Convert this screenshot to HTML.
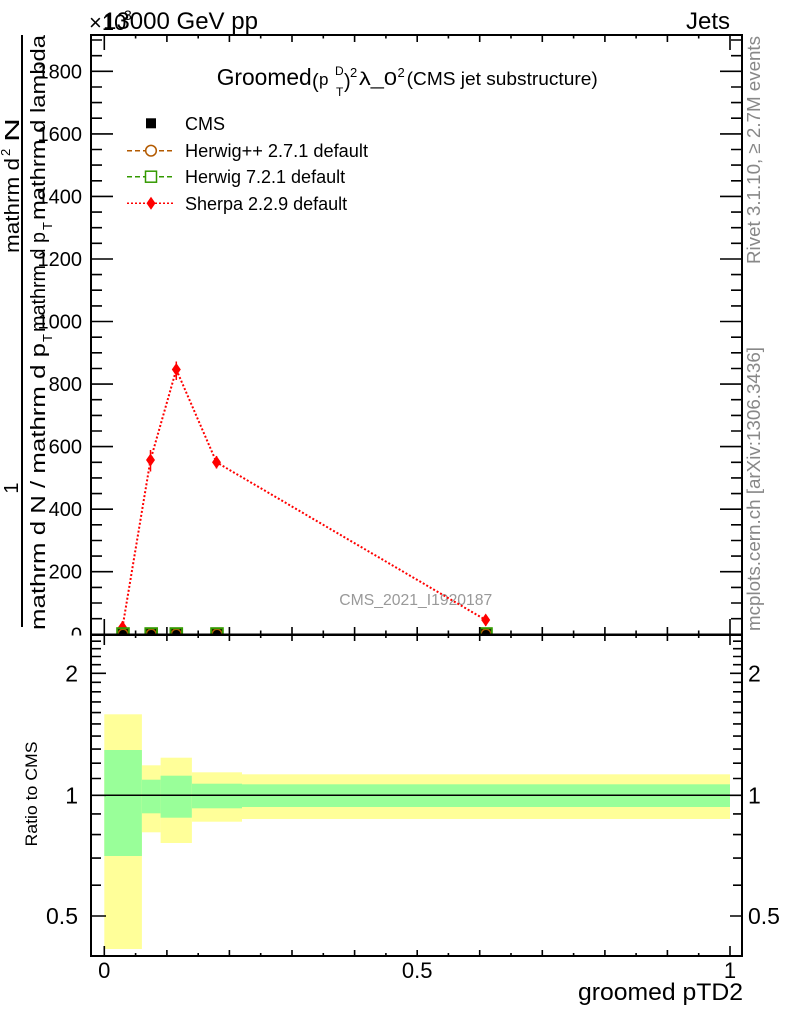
<!DOCTYPE html>
<html><head><meta charset="utf-8"><style>html,body{margin:0;padding:0;background:#fff}svg{display:block}</style></head>
<body>
<svg width="786" height="1024" viewBox="0 0 786 1024" xmlns="http://www.w3.org/2000/svg" font-family="'Liberation Sans', Arial, sans-serif">
<rect width="786" height="1024" fill="#fff"/>

<!-- top labels -->
<text x="89" y="30" font-size="22">×10</text>
<text x="124" y="20" font-size="14">3</text>
<text x="103" y="29" font-size="24" textLength="155" lengthAdjust="spacingAndGlyphs">13000 GeV pp</text>
<text x="730" y="29" font-size="24" text-anchor="end">Jets</text>

<!-- title -->
<text x="216.7" y="85" font-size="23" textLength="95" lengthAdjust="spacingAndGlyphs">Groomed</text>
<text x="312" y="88" font-size="20">(</text>
<text x="319" y="85" font-size="17">p</text>
<text x="336" y="96" font-size="12">T</text>
<text x="335" y="75" font-size="12">D</text>
<text x="344" y="88" font-size="20">)</text>
<text x="350" y="77" font-size="13">2</text>
<text x="359" y="85" font-size="18" textLength="38" lengthAdjust="spacingAndGlyphs">λ_0</text>
<text x="397.5" y="77" font-size="13">2</text>
<text x="406.7" y="85" font-size="18" textLength="191" lengthAdjust="spacingAndGlyphs">(CMS jet substructure)</text>

<!-- legend -->
<rect x="146" y="118.3" width="10" height="10" fill="#000"/>
<text x="185" y="130" font-size="18">CMS</text>
<line x1="127" y1="150.7" x2="173" y2="150.7" stroke="#b35a00" stroke-width="1.5" stroke-dasharray="5,3"/>
<circle cx="151" cy="150.7" r="5.3" fill="#fff" stroke="#b35a00" stroke-width="1.5"/>
<text x="185" y="157" font-size="18" textLength="183" lengthAdjust="spacingAndGlyphs">Herwig++ 2.7.1 default</text>
<line x1="127" y1="176.7" x2="173" y2="176.7" stroke="#339900" stroke-width="1.5" stroke-dasharray="5,3"/>
<rect x="145.5" y="171.2" width="11" height="11" fill="#fff" stroke="#339900" stroke-width="1.5"/>
<text x="185" y="183" font-size="18">Herwig 7.2.1 default</text>
<line x1="127" y1="203.3" x2="173" y2="203.3" stroke="#ff0000" stroke-width="1.5" stroke-dasharray="2,2"/>
<polygon points="151,196.8 155.5,203.3 151,209.8 146.5,203.3" fill="#ff0000"/>
<text x="185" y="210" font-size="18">Sherpa 2.2.9 default</text>

<!-- watermark -->
<text x="339.3" y="605" font-size="16" fill="#999" textLength="153" lengthAdjust="spacingAndGlyphs">CMS_2021_I1920187</text>

<!-- Sherpa series -->
<polyline points="122.5,627.3 150.5,460 176.3,369.5 216.5,462.3 485.7,620" fill="none" stroke="#ff0000" stroke-width="2" stroke-dasharray="2,2"/>
<g stroke="#ff0000" stroke-width="1.5">
<line x1="122.5" y1="621" x2="122.5" y2="633.5"/>
<line x1="150.5" y1="450" x2="150.5" y2="471.5"/>
<line x1="176.3" y1="361.5" x2="176.3" y2="380"/>
<line x1="216.5" y1="456" x2="216.5" y2="468.5"/>
<line x1="485.7" y1="615" x2="485.7" y2="626"/>
</g>
<g fill="#ff0000">
<polygon points="122.5,620.8 127,627.3 122.5,633.8 118,627.3"/>
<polygon points="150.5,453.5 155,460 150.5,466.5 146,460"/>
<polygon points="176.3,363 180.8,369.5 176.3,376 171.8,369.5"/>
<polygon points="216.5,455.8 221,462.3 216.5,468.8 212,462.3"/>
<polygon points="485.7,613.5 490.2,620 485.7,626.5 481.2,620"/>
</g>

<!-- bottom markers (CMS / Herwig) -->
<g>
<g transform="translate(123,634)"><rect x="-5.5" y="-5.5" width="11" height="11" fill="#000"/><circle r="4.8" fill="none" stroke="#b35a00" stroke-width="1.5"/><rect x="-5.8" y="-5.8" width="11.6" height="11.6" fill="none" stroke="#339900" stroke-width="2"/></g>
<g transform="translate(151.2,634)"><rect x="-5.5" y="-5.5" width="11" height="11" fill="#000"/><circle r="4.8" fill="none" stroke="#b35a00" stroke-width="1.5"/><rect x="-5.8" y="-5.8" width="11.6" height="11.6" fill="none" stroke="#339900" stroke-width="2"/></g>
<g transform="translate(176.3,634)"><rect x="-5.5" y="-5.5" width="11" height="11" fill="#000"/><circle r="4.8" fill="none" stroke="#b35a00" stroke-width="1.5"/><rect x="-5.8" y="-5.8" width="11.6" height="11.6" fill="none" stroke="#339900" stroke-width="2"/></g>
<g transform="translate(217,634)"><rect x="-5.5" y="-5.5" width="11" height="11" fill="#000"/><circle r="4.8" fill="none" stroke="#b35a00" stroke-width="1.5"/><rect x="-5.8" y="-5.8" width="11.6" height="11.6" fill="none" stroke="#339900" stroke-width="2"/></g>
<g transform="translate(486,634)"><rect x="-5.5" y="-5.5" width="11" height="11" fill="#000"/><circle r="4.8" fill="none" stroke="#b35a00" stroke-width="1.5"/><rect x="-5.8" y="-5.8" width="11.6" height="11.6" fill="none" stroke="#339900" stroke-width="2"/></g>
</g>

<!-- main y tick labels -->
<g font-size="20" text-anchor="end">
<text x="82" y="78.3">1800</text>
<text x="82" y="140.9">1600</text>
<text x="82" y="203.4">1400</text>
<text x="82" y="266">1200</text>
<text x="82" y="328.5">1000</text>
<text x="82" y="391.1">800</text>
<text x="82" y="453.6">600</text>
<text x="82" y="516.2">400</text>
<text x="82" y="578.7">200</text>
<text x="82" y="641.3">0</text>
</g>

<!-- y-axis title -->
<line x1="22" y1="35" x2="22" y2="627" stroke="#000" stroke-width="2"/>
<text transform="translate(18,488) rotate(-90)" font-size="20" text-anchor="middle">1</text>
<text transform="translate(45,630) rotate(-90)" font-size="20" textLength="287" lengthAdjust="spacingAndGlyphs">mathrm d N / mathrm d p</text>
<text transform="translate(52,342) rotate(-90)" font-size="13">T</text>
<text transform="translate(19,253) rotate(-90)" font-size="20" textLength="95" lengthAdjust="spacingAndGlyphs">mathrm d</text>
<text transform="translate(10,156) rotate(-90)" font-size="13">2</text>
<text transform="translate(19,142) rotate(-90)" font-size="20" textLength="24" lengthAdjust="spacingAndGlyphs">N</text>
<text transform="translate(45,332) rotate(-90)" font-size="20" textLength="100" lengthAdjust="spacingAndGlyphs">mathrm d p</text>
<text transform="translate(52,230) rotate(-90)" font-size="13">T</text>
<text transform="translate(45,220) rotate(-90)" font-size="20" textLength="185" lengthAdjust="spacingAndGlyphs">mathrm d lambda</text>

<!-- right side texts -->
<text transform="translate(760,264) rotate(-90)" font-size="18.7" fill="#888" textLength="228" lengthAdjust="spacingAndGlyphs">Rivet 3.1.10, ≥ 2.7M events</text>
<text transform="translate(760,631) rotate(-90)" font-size="18.7" fill="#888" textLength="284" lengthAdjust="spacingAndGlyphs">mcplots.cern.ch [arXiv:1306.3436]</text>

<!-- main ticks -->
<g stroke="#000" stroke-width="1.6" fill="none">
<path d="M104.3 35v15 M135.6 35v3.5 M166.9 35v7 M198.2 35v3.5 M229.4 35v7 M260.7 35v3.5 M292 35v7 M323.3 35v3.5 M354.6 35v7 M385.9 35v3.5 M417.2 35v7 M448.4 35v3.5 M479.7 35v7 M511 35v3.5 M542.3 35v7 M573.6 35v3.5 M604.9 35v7 M636.1 35v3.5 M667.4 35v7 M698.7 35v3.5 M730 35v15"/>
<path d="M104.3 634v-15 M135.6 634v-3.5 M166.9 634v-7 M198.2 634v-3.5 M229.4 634v-7 M260.7 634v-3.5 M292 634v-7 M323.3 634v-3.5 M354.6 634v-7 M385.9 634v-3.5 M417.2 634v-7 M448.4 634v-3.5 M479.7 634v-7 M511 634v-3.5 M542.3 634v-7 M573.6 634v-3.5 M604.9 634v-7 M636.1 634v-3.5 M667.4 634v-7 M698.7 634v-3.5 M730 634v-15"/>
<path d="M91 618.7h11 M91 603h11 M91 587.4h11 M91 571.7h22 M91 556.1h11 M91 540.5h11 M91 524.8h11 M91 509.2h22 M91 493.6h11 M91 477.9h11 M91 462.3h11 M91 446.6h22 M91 431h11 M91 415.4h11 M91 399.7h11 M91 384.1h22 M91 368.5h11 M91 352.8h11 M91 337.2h11 M91 321.5h22 M91 305.9h11 M91 290.2h11 M91 274.6h11 M91 259h22 M91 243.3h11 M91 227.7h11 M91 212.1h11 M91 196.4h22 M91 180.8h11 M91 165.1h11 M91 149.5h11 M91 133.9h22 M91 118.2h11 M91 102.6h11 M91 87h11 M91 71.3h22 M91 55.7h11 M91 40h11"/>
<path d="M742 618.7h-11 M742 603h-11 M742 587.4h-11 M742 571.7h-22 M742 556.1h-11 M742 540.5h-11 M742 524.8h-11 M742 509.2h-22 M742 493.6h-11 M742 477.9h-11 M742 462.3h-11 M742 446.6h-22 M742 431h-11 M742 415.4h-11 M742 399.7h-11 M742 384.1h-22 M742 368.5h-11 M742 352.8h-11 M742 337.2h-11 M742 321.5h-22 M742 305.9h-11 M742 290.2h-11 M742 274.6h-11 M742 259h-22 M742 243.3h-11 M742 227.7h-11 M742 212.1h-11 M742 196.4h-22 M742 180.8h-11 M742 165.1h-11 M742 149.5h-11 M742 133.9h-22 M742 118.2h-11 M742 102.6h-11 M742 87h-11 M742 71.3h-22 M742 55.7h-11 M742 40h-11"/>
</g>
<rect x="91" y="35" width="651" height="599.5" fill="none" stroke="#000" stroke-width="2"/>

<!-- ratio pad -->
<rect x="0" y="635.5" width="786" height="389" fill="#fff"/>
<g>
<rect x="104.3" y="714.3" width="37.6" height="234.7" fill="#ffff99"/>
<rect x="104.3" y="750" width="37.6" height="106" fill="#99ff99"/>
<rect x="141.9" y="765.3" width="18.7" height="67" fill="#ffff99"/>
<rect x="141.9" y="779.7" width="18.7" height="33.6" fill="#99ff99"/>
<rect x="160.6" y="757.7" width="31.3" height="85.3" fill="#ffff99"/>
<rect x="160.6" y="775.7" width="31.3" height="42" fill="#99ff99"/>
<rect x="191.9" y="772.3" width="50.1" height="49.4" fill="#ffff99"/>
<rect x="191.9" y="783.7" width="50.1" height="24.6" fill="#99ff99"/>
<rect x="242" y="774.3" width="488" height="44.7" fill="#ffff99"/>
<rect x="242" y="784.3" width="488" height="22.7" fill="#99ff99"/>
</g>
<line x1="91" y1="795.3" x2="742" y2="795.3" stroke="#000" stroke-width="1.5"/>

<g stroke="#000" stroke-width="1.6" fill="none">
<path d="M104.3 635v10 M135.6 635v3 M166.9 635v6 M198.2 635v3 M229.4 635v6 M260.7 635v3 M292 635v6 M323.3 635v3 M354.6 635v6 M385.9 635v3 M417.2 635v6 M448.4 635v3 M479.7 635v6 M511 635v3 M542.3 635v6 M573.6 635v3 M604.9 635v6 M636.1 635v3 M667.4 635v6 M698.7 635v3 M730 635v10"/>
<path d="M104.3 956v-10 M135.6 956v-3 M166.9 956v-6 M198.2 956v-3 M229.4 956v-6 M260.7 956v-3 M292 956v-6 M323.3 956v-3 M354.6 956v-6 M385.9 956v-3 M417.2 956v-6 M448.4 956v-3 M479.7 956v-6 M511 956v-3 M542.3 956v-6 M573.6 956v-3 M604.9 956v-6 M636.1 956v-3 M667.4 956v-6 M698.7 956v-3 M730 956v-10"/>
<path d="M91 641.2h10 M91 648.7h10 M91 656.5h10 M91 664.7h10 M91 673.3h15 M91 682.3h10 M91 691.8h10 M91 701.9h10 M91 712.6h10 M91 723.9h10 M91 736.1h10 M91 749.1h10 M91 763.2h10 M91 778.5h10 M91 795.3h15 M91 813.9h10 M91 834.6h10 M91 858.1h10 M91 885.2h10 M91 916h15"/>
<path d="M742 641.2h-9 M742 648.7h-9 M742 656.5h-9 M742 664.7h-9 M742 673.3h-12 M742 682.3h-9 M742 691.8h-9 M742 701.9h-9 M742 712.6h-9 M742 723.9h-9 M742 736.1h-9 M742 749.1h-9 M742 763.2h-9 M742 778.5h-9 M742 795.3h-12 M742 813.9h-9 M742 834.6h-9 M742 858.1h-9 M742 885.2h-9 M742 916h-12"/>
</g>
<rect x="91" y="635" width="651" height="321" fill="none" stroke="#000" stroke-width="2"/>
<line x1="90" y1="634.5" x2="743" y2="634.5" stroke="#000" stroke-width="2"/>

<!-- ratio labels -->
<g font-size="23">
<text x="78" y="681.5" text-anchor="end">2</text>
<text x="78" y="803.5" text-anchor="end">1</text>
<text x="78" y="924" text-anchor="end">0.5</text>
<text x="748" y="681.5">2</text>
<text x="748" y="803.5">1</text>
<text x="748" y="924">0.5</text>
</g>
<text transform="translate(37,794) rotate(-90)" font-size="17" text-anchor="middle" textLength="105" lengthAdjust="spacingAndGlyphs">Ratio to CMS</text>

<!-- x labels -->
<g font-size="22" text-anchor="middle">
<text x="104.3" y="978">0</text>
<text x="417.2" y="978">0.5</text>
<text x="730" y="978">1</text>
</g>
<text x="743" y="1000" font-size="24" text-anchor="end" textLength="165" lengthAdjust="spacingAndGlyphs">groomed pTD2</text>
</svg>
</body></html>
